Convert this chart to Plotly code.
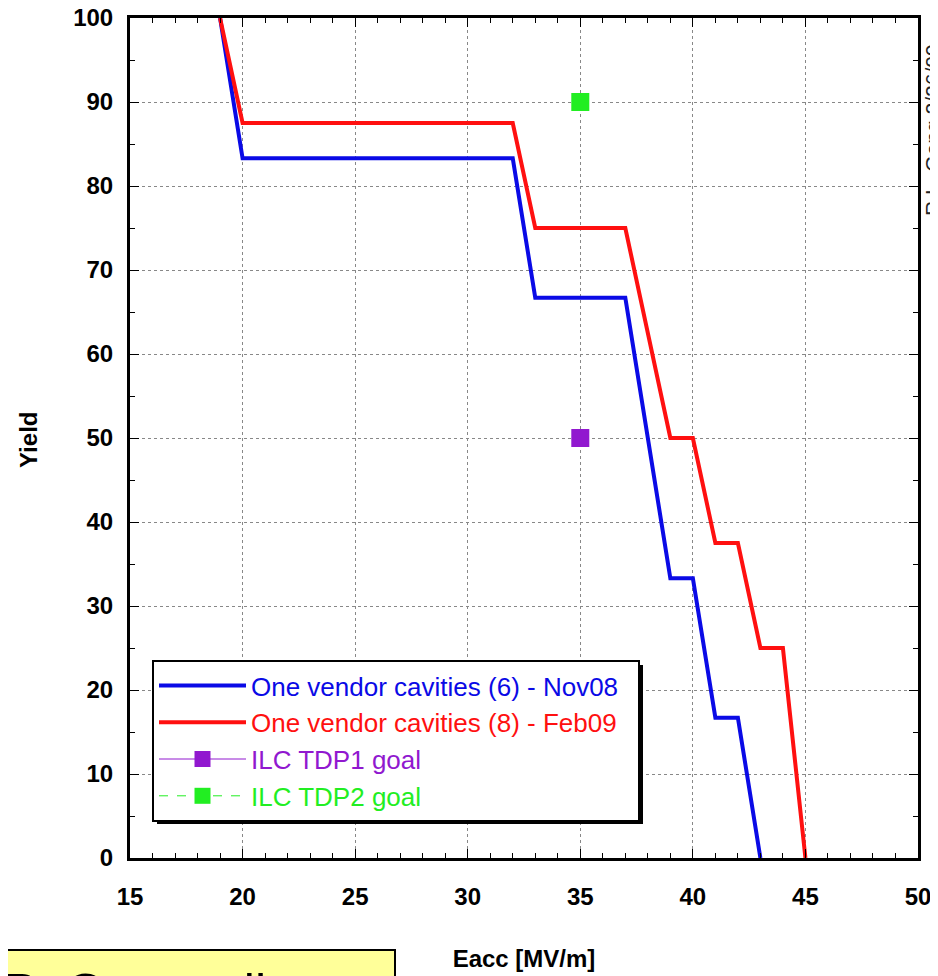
import plotly.graph_objects as go

# Data
blue_x = [19, 20, 32, 33, 37, 39, 40, 41, 42, 43]
blue_y = [100, 83.3, 83.3, 66.7, 66.7, 33.3, 33.3, 16.7, 16.7, 0]
red_x = [19, 20, 32, 33, 37, 39, 40, 41, 42, 43, 44, 45]
red_y = [100, 87.5, 87.5, 75, 75, 50, 50, 37.5, 37.5, 25, 25, 0]
tdp1_x = [35]
tdp1_y = [50]
tdp2_x = [35]
tdp2_y = [90]

names = ["One vendor cavities (6) - Nov08", "One vendor cavities (8) - Feb09",
         "ILC TDP1 goal", "ILC TDP2 goal"]
x_ticks = [15, 20, 25, 30, 35, 40, 45, 50]
y_ticks = [0, 10, 20, 30, 40, 50, 60, 70, 80, 90, 100]

# page offset of the plot div (browser default body margin)
OFF = 8
W, H = 938 - OFF, 976 - OFF
L, R, T, B = 130 - OFF, 20, 18 - OFF, 118
pw, ph = W - L - R, H - T - B

def px(xp):
    return (xp - OFF - L) / pw

def py(yp):
    return (H - B - (yp - OFF)) / ph

BLUE = "#0a0ae6"
RED = "#ff1010"
PURPLE = "#9118cf"
GREEN = "#22ee22"

def colored(name, color, pad=""):
    return f'<span style="color:{color}">{name}</span>{pad}'

fig = go.Figure()
fig.add_trace(go.Scatter(x=blue_x, y=blue_y, mode="lines", name=colored(names[0], BLUE, "&nbsp;&nbsp;"),
                         line=dict(color=BLUE, width=4)))
fig.add_trace(go.Scatter(x=red_x, y=red_y, mode="lines", name=colored(names[1], RED),
                         line=dict(color=RED, width=4)))
fig.add_trace(go.Scatter(x=tdp1_x, y=tdp1_y, mode="lines+markers", name=colored(names[2], PURPLE),
                         line=dict(color=PURPLE, width=1),
                         marker=dict(symbol="square", size=18, color=PURPLE)))
fig.add_trace(go.Scatter(x=tdp2_x, y=tdp2_y, mode="lines+markers", name=colored(names[3], GREEN),
                         line=dict(color=GREEN, width=1, dash="dash"),
                         marker=dict(symbol="square", size=18, color=GREEN)))

axis_common = dict(
    showline=True, linecolor="black", linewidth=3, mirror="ticks",
    ticks="inside", ticklen=9, tickwidth=1, tickcolor="black",
    showgrid=True, gridcolor="#888888", griddash="dot", gridwidth=1,
    zeroline=False, automargin=False, ticklabeloverflow="allow",
    tickfont=dict(family="Liberation Sans, Arial", size=24, color="black", weight="bold"),
)

fig.update_xaxes(range=[15, 50], tickvals=x_ticks, ticktext=[str(v) for v in x_ticks],
                 minor=dict(dtick=1, ticks="inside", ticklen=5, tickcolor="black", showgrid=False),
                 ticklabelstandoff=15,
                 title=dict(text="Eacc [MV/m]", standoff=42,
                            font=dict(family="Liberation Sans, Arial", size=24, color="black", weight="bold")),
                 **axis_common)
fig.update_yaxes(range=[0, 100], tickvals=y_ticks, ticktext=[str(v) for v in y_ticks],
                 minor=dict(dtick=5, ticks="inside", ticklen=5, tickcolor="black", showgrid=False),
                 ticklabelstandoff=9,
                 **axis_common)

# y-axis title
fig.add_annotation(xref="paper", yref="paper", x=px(28), y=py(440), xanchor="center", yanchor="middle",
                   text="<b>Yield</b>", textangle=-90, showarrow=False,
                   font=dict(family="Liberation Sans, Arial", size=24, color="black"))

# legend shadow
fig.add_shape(type="rect", xref="paper", yref="paper",
              x0=px(157), x1=px(643), y0=py(824), y1=py(665),
              fillcolor="black", line=dict(width=0), layer="above")

# yellow box at bottom-left
fig.add_shape(type="rect", xref="paper", yref="paper",
              x0=px(0), x1=px(395), y0=py(1000), y1=py(950),
              fillcolor="#ffff99", line=dict(color="black", width=2), layer="above")
fig.add_annotation(xref="paper", yref="paper", x=px(0), y=py(962), xanchor="left", yanchor="top",
                   text="R. Geng talk", showarrow=False,
                   font=dict(family="Liberation Sans, Arial", size=50, color="black"))

# rotated signature at top-right
fig.add_annotation(xref="paper", yref="paper", x=px(933), y=py(130), xanchor="center", yanchor="middle",
                   text="R.L. Geng 2/26/09", textangle=-90, showarrow=False,
                   font=dict(family="Liberation Sans, Arial", size=21, color="#222222"))

fig.update_layout(
    width=W, height=H,
    margin=dict(l=L, r=R, t=T, b=B, autoexpand=False),
    plot_bgcolor="white", paper_bgcolor="white",
    showlegend=True,
    legend=dict(x=px(152), y=py(660), xanchor="left", yanchor="top",
                bgcolor="white", bordercolor="black", borderwidth=2,
                font=dict(family="Liberation Sans, Arial", size=26),
                itemwidth=87, tracegroupgap=0),
)

fig.write_html("out.html")
